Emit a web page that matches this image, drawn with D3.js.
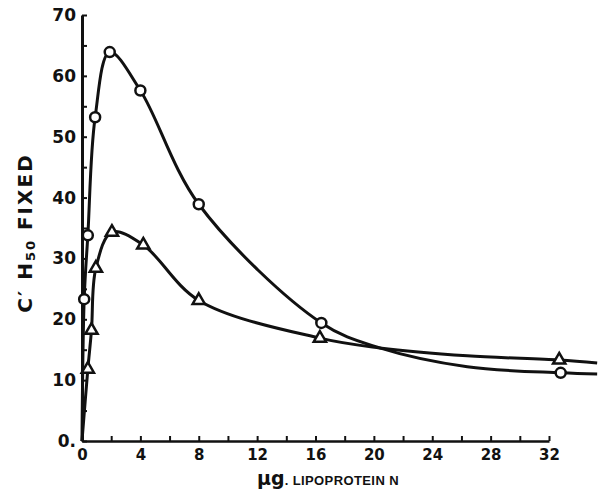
<!DOCTYPE html>
<html>
<head>
<meta charset="utf-8">
<script src="https://cdn.jsdelivr.net/npm/d3@7"></script>
<style>
  body { margin: 0; background: #fff; }
  svg { display: block; }
  .tick text { font-family: "DejaVu Sans", sans-serif; font-weight: bold; fill: #111; }
</style>
</head>
<body>
<svg id="chart" width="599" height="489"></svg>
<script>
// circles (upper series)
const circleX = [0.15, 0.4, 0.9, 1.9, 4.0, 8.0, 16.4, 32.8];
const circleY = [23.3, 33.8, 53.2, 63.9, 57.6, 38.9, 19.4, 11.2];
// triangles (lower series)
const triX = [0.4, 0.65, 0.95, 2.05, 4.2, 8.0, 16.3, 32.7];
const triY = [11.8, 18.2, 28.4, 34.3, 32.2, 23.1, 16.9, 13.3];
const curveStart = [0, 0];
const upperTrace = [[20.4, 15.3], [26.4, 12.2]];
const lowerTrace = [[20.4, 15.3], [26.4, 14.0]];
const upperTail = [35.3, 11.0];
const lowerTail = [35.3, 12.8];

const xTicks = d3.range(0, 33, 2);
const xLabels = [0, 4, 8, 12, 16, 20, 24, 28, 32];
const yTicks = d3.range(0, 71, 5);
const yLabels = [0, 10, 20, 30, 40, 50, 60, 70];

const svg = d3.select("#chart");
const margin = { top: 15, right: 50, bottom: 48, left: 82 };
const width = 599, height = 489;

const x = d3.scaleLinear().domain([0, 32]).range([margin.left, width - margin.right]);
const y = d3.scaleLinear().domain([0, 70]).range([height - margin.bottom, margin.top]);

// x axis
const xAxis = svg.append("g")
  .attr("transform", `translate(0,${y(0)})`)
  .call(d3.axisBottom(x)
    .tickValues(xTicks)
    .tickSizeInner(-5)
    .tickSizeOuter(0)
    .tickPadding(8)
    .tickFormat(d => xLabels.includes(d) ? d : ""));
xAxis.select(".domain").attr("stroke", "#111").attr("stroke-width", 2.5);
xAxis.selectAll(".tick line").attr("stroke", "#111").attr("stroke-width", 2);
xAxis.selectAll(".tick text").attr("font-size", 15);

// y axis
const yAxis = svg.append("g")
  .attr("transform", `translate(${x(0)},0)`)
  .call(d3.axisLeft(y)
    .tickValues(yTicks)
    .tickSizeInner(-5)
    .tickSizeOuter(0)
    .tickPadding(6)
    .tickFormat(d => d === 0 ? "0." : (yLabels.includes(d) ? d : "")));
yAxis.select(".domain").attr("stroke", "#111").attr("stroke-width", 3);
yAxis.selectAll(".tick line").attr("stroke", "#111").attr("stroke-width", 2);
yAxis.selectAll(".tick text").attr("font-size", 17);

// curves
const line = d3.line()
  .x(d => x(d[0]))
  .y(d => y(d[1]))
  .curve(d3.curveCatmullRom.alpha(0.5));

const byX = (a, b) => a[0] - b[0];
const upperPts = [curveStart].concat(circleX.map((v, i) => [v, circleY[i]]), upperTrace, [upperTail]).sort(byX);
const lowerPts = [curveStart].concat(triX.map((v, i) => [v, triY[i]]), lowerTrace, [lowerTail]).sort(byX);

svg.append("path").datum(upperPts)
  .attr("fill", "none").attr("stroke", "#111").attr("stroke-width", 3)
  .attr("d", line);
svg.append("path").datum(lowerPts)
  .attr("fill", "none").attr("stroke", "#111").attr("stroke-width", 3)
  .attr("d", line);

// markers
svg.selectAll(".circ").data(circleX).enter()
  .append("circle").attr("class", "circ")
  .attr("cx", d => x(d))
  .attr("cy", (d, i) => y(circleY[i]))
  .attr("r", 5)
  .attr("fill", "#fff").attr("stroke", "#111").attr("stroke-width", 2.5);

const tri = d3.symbol().type(d3.symbolTriangle).size(65);
svg.selectAll(".tri").data(triX).enter()
  .append("path").attr("class", "tri")
  .attr("transform", (d, i) => `translate(${x(d)},${y(triY[i])})`)
  .attr("d", tri)
  .attr("fill", "#fff").attr("stroke", "#111").attr("stroke-width", 2.5);

// axis titles
const xt = svg.append("text")
  .attr("x", 328).attr("y", 485)
  .attr("text-anchor", "middle")
  .attr("font-family", "Liberation Sans, Arial, sans-serif")
  .attr("font-weight", "bold")
  .attr("fill", "#111");
xt.append("tspan").attr("font-size", 19).attr("font-family", "DejaVu Sans, sans-serif").text("\u03bcg");
xt.append("tspan").attr("font-size", 13).attr("letter-spacing", 0.4).text(". LIPOPROTEIN N");

const yt = svg.append("text")
  .attr("transform", "translate(32,233) rotate(-90)")
  .attr("text-anchor", "middle")
  .attr("font-family", "DejaVu Sans, sans-serif")
  .attr("font-weight", "bold")
  .attr("font-size", 20)
  .attr("letter-spacing", 2)
  .attr("fill", "#111");
yt.append("tspan").text("C\u2032 H");
yt.append("tspan").attr("font-size", 13).attr("dy", 3).text("50");
yt.append("tspan").attr("dy", -3).text(" FIXED");
</script>
</body>
</html>
